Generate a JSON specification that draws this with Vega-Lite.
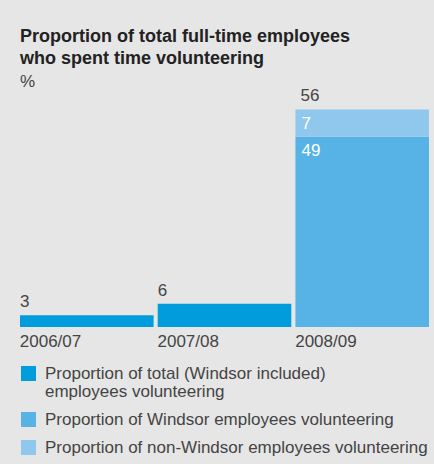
{
  "$schema": "https://vega.github.io/schema/vega-lite/v6.json",
  "autosize": {"type": "none"},
  "width": 409,
  "height": 233,
  "padding": {"left": 20, "top": 94, "right": 5, "bottom": 137},
  "background": "#e6e6e6",
  "config": {"view": {"stroke": null}},
  "title": {
    "text": ["Proportion of total full-time employees", "who spent time volunteering"],
    "subtitle": "%",
    "anchor": "start",
    "frame": "group",
    "font": "Liberation Sans",
    "fontSize": 18,
    "fontWeight": "bold",
    "color": "#222222",
    "lineHeight": 22,
    "subtitleFont": "Liberation Sans",
    "subtitleFontSize": 17,
    "subtitleColor": "#444444",
    "subtitlePadding": 6,
    "offset": -3
  },
  "data": {
    "values": [
      {"year": "2006/07", "series": "Proportion of total (Windsor included) employees volunteering", "value": 3, "rank": 1},
      {"year": "2007/08", "series": "Proportion of total (Windsor included) employees volunteering", "value": 6, "rank": 1},
      {"year": "2008/09", "series": "Proportion of Windsor employees volunteering", "value": 49, "rank": 1},
      {"year": "2008/09", "series": "Proportion of non-Windsor employees volunteering", "value": 7, "rank": 2}
    ]
  },
  "encoding": {
    "x": {
      "field": "year",
      "type": "nominal",
      "bandPosition": 0,
      "scale": {"paddingInner": 0.03, "paddingOuter": 0},
      "axis": {
        "title": null,
        "domain": false,
        "ticks": false,
        "labelAngle": 0,
        "labelAlign": "left",
        "labelBaseline": "top",
        "labelPadding": 6,
        "labelOffset": -67,
        "labelFont": "Liberation Sans",
        "labelFontSize": 17,
        "labelColor": "#444444"
      }
    }
  },
  "layer": [
    {
      "mark": {"type": "bar"},
      "encoding": {
        "x": {"field": "year", "type": "nominal"},
        "y": {
          "field": "value",
          "type": "quantitative",
          "stack": "zero",
          "scale": {"domain": [0, 60], "nice": false},
          "axis": null
        },
        "order": {"field": "rank", "type": "quantitative"},
        "color": {
          "field": "series",
          "type": "nominal",
          "scale": {
            "domain": [
              "Proportion of total (Windsor included) employees volunteering",
              "Proportion of Windsor employees volunteering",
              "Proportion of non-Windsor employees volunteering"
            ],
            "range": ["#009cdc", "#57b2e5", "#8fc7ed"]
          },
          "legend": {
            "title": null,
            "orient": "none",
            "legendX": 0,
            "legendY": 271,
            "direction": "vertical",
            "symbolType": "square",
            "symbolSize": 225,
            "symbolStrokeWidth": 0,
            "symbolOpacity": 1,
            "labelFont": "Liberation Sans",
            "labelFontSize": 17,
            "labelColor": "#444444",
            "labelOffset": 8,
            "labelLimit": 420,
            "rowPadding": 10,
            "labelExpr": "datum.label == 'Proportion of total (Windsor included) employees volunteering' ? ['Proportion of total (Windsor included)', 'employees volunteering'] : datum.label",
            "encode": {"labels": {"update": {"lineHeight": {"value": 18}}}}
          }
        }
      }
    },
    {
      "transform": [{"filter": "datum.year != '2008/09'"}],
      "mark": {"type": "text", "align": "left", "baseline": "alphabetic", "dy": -8, "font": "Liberation Sans", "fontSize": 17, "color": "#444444"},
      "encoding": {
        "x": {"field": "year", "type": "nominal", "bandPosition": 0},
        "y": {"aggregate": "sum", "field": "value", "type": "quantitative"},
        "text": {"aggregate": "sum", "field": "value", "type": "quantitative"}
      }
    },
    {
      "transform": [{"filter": "datum.year == '2008/09'"}],
      "mark": {"type": "text", "align": "left", "baseline": "alphabetic", "dx": 5, "dy": -9, "font": "Liberation Sans", "fontSize": 17, "color": "#444444"},
      "encoding": {
        "x": {"field": "year", "type": "nominal", "bandPosition": 0},
        "y": {"aggregate": "sum", "field": "value", "type": "quantitative"},
        "text": {"aggregate": "sum", "field": "value", "type": "quantitative"}
      }
    },
    {
      "transform": [{"filter": "datum.year == '2008/09'"}],
      "mark": {"type": "text", "align": "left", "baseline": "alphabetic", "dx": 6, "dy": 19, "font": "Liberation Sans", "fontSize": 17, "color": "white"},
      "encoding": {
        "x": {"field": "year", "type": "nominal", "bandPosition": 0},
        "y": {"field": "value", "type": "quantitative", "stack": "zero"},
        "order": {"field": "rank", "type": "quantitative"},
        "text": {"field": "value", "type": "quantitative"}
      }
    }
  ]
}
